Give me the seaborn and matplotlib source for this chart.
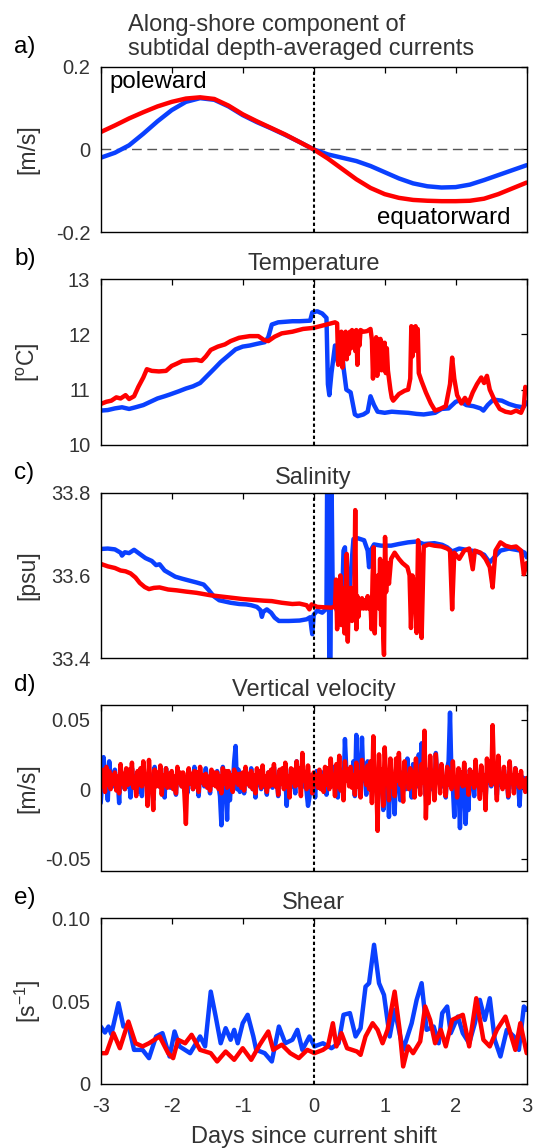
import numpy as np
import matplotlib
matplotlib.use("Agg")
import matplotlib.pyplot as plt
import seaborn as sns

# ---------------- data ----------------
# a) along-shore subtidal depth-averaged current [m/s]
cur_days = [-3.0, -2.8, -2.6, -2.4, -2.2, -2.0, -1.8, -1.6, -1.4, -1.2, -1.0, -0.8, -0.6, -0.4, -0.2, 0.0,
            0.2, 0.4, 0.6, 0.8, 1.0, 1.2, 1.4, 1.6, 1.8, 2.0, 2.2, 2.4, 2.6, 2.8, 3.0]
cur_red = [0.042, 0.058, 0.075, 0.090, 0.104, 0.115, 0.123, 0.126, 0.122, 0.106, 0.085, 0.068, 0.052, 0.036,
           0.018, 0.000, -0.022, -0.047, -0.072, -0.093, -0.108, -0.117, -0.122, -0.124, -0.125, -0.125,
           -0.124, -0.119, -0.108, -0.094, -0.080]
cur_blue = [-0.020, -0.008, 0.010, 0.038, 0.068, 0.095, 0.115, 0.124, 0.120, 0.104, 0.083, 0.066, 0.051, 0.035,
            0.018, 0.000, -0.012, -0.020, -0.028, -0.040, -0.055, -0.070, -0.082, -0.089, -0.092, -0.091,
            -0.085, -0.074, -0.062, -0.050, -0.038]

# b) temperature [degC]
temp_blue_days = [-3.00, -2.90, -2.80, -2.70, -2.60, -2.51, -2.40, -2.30, -2.20, -2.10, -2.03, -1.90, -1.80, -1.70,
                  -1.60, -1.50, -1.40, -1.31, -1.20, -1.10, -1.00, -0.90, -0.80, -0.69, -0.64, -0.59, -0.50, -0.40,
                  -0.30, -0.20, -0.05, -0.02, 0.05, 0.12, 0.18, 0.20, 0.22, 0.25, 0.30, 0.34, 0.38, 0.42, 0.46,
                  0.52, 0.58, 0.62, 0.70, 0.76, 0.80, 0.85, 0.90, 1.00, 1.10, 1.20, 1.33, 1.45, 1.55, 1.71, 1.80,
                  1.90, 2.00, 2.05, 2.15, 2.25, 2.35, 2.39, 2.45, 2.53, 2.65, 2.75, 2.85, 2.95, 3.00]
temp_blue = [10.62, 10.63, 10.66, 10.68, 10.65, 10.68, 10.72, 10.78, 10.84, 10.88, 10.91, 10.97, 11.02, 11.06,
             11.12, 11.25, 11.38, 11.50, 11.62, 11.73, 11.78, 11.80, 11.83, 11.86, 11.95, 12.18, 12.22, 12.23,
             12.24, 12.24, 12.25, 12.40, 12.42, 12.38, 12.30, 11.10, 10.90, 11.30, 11.80, 11.50, 12.00, 11.40,
             11.00, 10.95, 10.55, 10.52, 10.55, 10.60, 10.88, 10.72, 10.60, 10.58, 10.60, 10.59, 10.58, 10.56,
             10.55, 10.58, 10.65, 10.66, 10.78, 10.80, 10.72, 10.70, 10.66, 10.62, 10.72, 10.82, 10.80, 10.74,
             10.70, 10.68, 10.77]
temp_red_days = [-3.00, -2.92, -2.85, -2.78, -2.72, -2.65, -2.60, -2.53, -2.47, -2.40, -2.35, -2.28, -2.18, -2.08,
                 -2.00, -1.93, -1.85, -1.75, -1.65, -1.58, -1.52, -1.45, -1.35, -1.25, -1.17, -1.05, -0.90, -0.78,
                 -0.70, -0.64, -0.55, -0.45, -0.30, -0.15, 0.00, 0.15, 0.30,
                 0.33, 0.345, 0.36, 0.375, 0.39, 0.405, 0.42, 0.435, 0.45, 0.465, 0.48, 0.495, 0.51, 0.525,
                 0.54, 0.555, 0.57, 0.585, 0.60, 0.615, 0.63, 0.645, 0.66, 0.70, 0.75, 0.80,
                 0.82, 0.835, 0.85, 0.865, 0.88, 0.895, 0.91, 0.925, 0.94, 0.955, 0.97, 0.985, 1.00, 1.015,
                 1.03, 1.045, 1.06, 1.08, 1.10, 1.12,
                 1.20, 1.28, 1.33, 1.36, 1.375, 1.39, 1.405, 1.42, 1.435, 1.45, 1.465, 1.48,
                 1.52, 1.58, 1.65, 1.71, 1.78, 1.86, 1.92, 1.95,
                 1.98, 2.02, 2.08, 2.13, 2.18, 2.24, 2.30, 2.36, 2.40, 2.44, 2.48, 2.55, 2.62, 2.70, 2.78, 2.85,
                 2.92, 2.96, 2.98, 3.00]
temp_red = [10.74, 10.78, 10.80, 10.86, 10.84, 10.90, 10.83, 10.88, 11.05, 11.22, 11.37, 11.34, 11.33, 11.34,
            11.43, 11.47, 11.52, 11.53, 11.54, 11.52, 11.60, 11.72, 11.78, 11.82, 11.88, 11.94, 11.97, 11.97,
            11.90, 11.88, 11.96, 12.02, 12.05, 12.10, 12.12, 12.17, 12.22,
            12.20, 11.45, 12.00, 11.60, 12.05, 11.40, 11.95, 11.70, 12.05, 11.55, 12.00, 11.65, 12.05, 11.75,
            12.08, 11.80, 12.05, 11.70, 12.08, 11.45, 12.00, 11.80, 12.08, 12.05, 12.06, 12.10,
            11.90, 11.20, 11.85, 11.30, 11.95, 11.25, 11.90, 11.40, 11.92, 11.35, 11.85, 11.50, 11.85, 11.30,
            11.75, 11.35, 11.20, 11.00, 10.85, 10.80,
            10.92, 10.98, 11.00, 11.20, 12.15, 11.60, 12.12, 11.70, 12.15, 11.80, 12.10, 11.30,
            11.15, 10.95, 10.75, 10.62, 10.65, 10.70, 11.10, 11.58,
            11.20, 10.90, 10.75, 10.85, 10.75, 10.95, 11.10, 11.22, 11.12, 11.25, 11.00, 10.80, 10.65, 10.60,
            10.58, 10.62, 10.58, 10.70, 11.05, 11.00]

# c) salinity [psu]
sal_blue_days = [-3.00, -2.90, -2.80, -2.72, -2.70, -2.66, -2.60, -2.53, -2.45, -2.37, -2.28, -2.22, -2.17, -2.10,
                 -2.03, -1.95, -1.85, -1.74, -1.65, -1.55, -1.48, -1.41, -1.33, -1.25, -1.17, -1.05, -0.95, -0.88,
                 -0.80, -0.75, -0.73, -0.71, -0.66, -0.60, -0.55, -0.49, -0.35, -0.20, -0.10, -0.05, -0.03, -0.02,
                 0.00, 0.05, 0.12, 0.18, 0.19, 0.21, 0.22, 0.235, 0.25, 0.265, 0.30, 0.37, 0.40, 0.42, 0.44, 0.46,
                 0.49, 0.52, 0.56, 0.62, 0.71, 0.76, 0.78, 0.80, 0.85, 0.95, 1.09, 1.20, 1.33, 1.45, 1.55, 1.70,
                 1.81, 1.88, 1.95, 2.05, 2.15, 2.29, 2.40, 2.45, 2.48, 2.55, 2.63, 2.75, 2.85, 2.91, 2.97, 3.00]
sal_blue = [33.664, 33.665, 33.663, 33.655, 33.648, 33.656, 33.654, 33.662, 33.652, 33.642, 33.635, 33.625,
            33.627, 33.612, 33.605, 33.597, 33.592, 33.587, 33.583, 33.578, 33.565, 33.550, 33.540, 33.537,
            33.534, 33.531, 33.530, 33.528, 33.524, 33.516, 33.500, 33.512, 33.518, 33.510, 33.498, 33.490,
            33.490, 33.491, 33.494, 33.499, 33.470, 33.458, 33.505, 33.515, 33.510, 33.520, 33.850, 33.850,
            33.350, 33.350, 33.850, 33.600, 33.525, 33.500, 33.540, 33.660, 33.668, 33.560, 33.540, 33.600,
            33.688, 33.690, 33.685, 33.660, 33.620, 33.660, 33.675, 33.672, 33.672, 33.676, 33.680, 33.682,
            33.676, 33.678, 33.674, 33.668, 33.658, 33.665, 33.662, 33.658, 33.650, 33.638, 33.632, 33.645,
            33.660, 33.665, 33.662, 33.660, 33.655, 33.644]
sal_red_days = [-3.00, -2.90, -2.80, -2.72, -2.65, -2.58, -2.51, -2.45, -2.38, -2.32, -2.25, -2.17, -2.05, -1.93,
                -1.80, -1.65, -1.55, -1.45, -1.30, -1.15, -1.00, -0.85, -0.70, -0.59, -0.45, -0.30, -0.20, -0.10,
                -0.06, -0.03, 0.05, 0.15, 0.25,
                0.30, 0.315, 0.33, 0.345, 0.36, 0.375, 0.39, 0.405, 0.42, 0.435, 0.45, 0.465, 0.48, 0.495, 0.51,
                0.525, 0.54, 0.555, 0.57, 0.585, 0.60, 0.615, 0.63, 0.645, 0.66, 0.68, 0.70, 0.72, 0.74, 0.76,
                0.78, 0.80, 0.815, 0.83, 0.845, 0.86, 0.875, 0.89, 0.905, 0.92, 0.935, 0.95, 0.965, 0.98, 0.99,
                1.005, 1.02, 1.04, 1.06, 1.09, 1.14, 1.20, 1.25, 1.32, 1.35, 1.37, 1.39, 1.42, 1.45, 1.47, 1.50,
                1.52, 1.55, 1.62, 1.70, 1.80, 1.88, 1.92, 1.95, 1.98, 2.05, 2.12, 2.19, 2.24, 2.27, 2.35, 2.42,
                2.48, 2.52, 2.56, 2.63, 2.70, 2.78, 2.85, 2.92, 2.96, 3.00]
sal_red = [33.628, 33.622, 33.618, 33.612, 33.610, 33.605, 33.595, 33.582, 33.572, 33.567, 33.570, 33.571,
           33.566, 33.564, 33.561, 33.558, 33.555, 33.552, 33.549, 33.546, 33.543, 33.541, 33.539, 33.538,
           33.534, 33.531, 33.532, 33.528, 33.518, 33.530, 33.524, 33.523, 33.522,
           33.525, 33.590, 33.470, 33.580, 33.490, 33.600, 33.480, 33.570, 33.520, 33.460, 33.550, 33.652,
           33.440, 33.560, 33.500, 33.570, 33.490, 33.560, 33.520, 33.758, 33.470, 33.550, 33.500, 33.540,
           33.520, 33.545, 33.520, 33.540, 33.520, 33.550, 33.520, 33.530, 33.470, 33.600, 33.668, 33.460,
           33.580, 33.550, 33.600, 33.520, 33.640, 33.480, 33.620, 33.450, 33.408, 33.693, 33.560, 33.630,
           33.580, 33.640, 33.655, 33.640, 33.630, 33.620, 33.600, 33.473, 33.600, 33.580, 33.461, 33.685,
           33.620, 33.449, 33.670, 33.675, 33.672, 33.670, 33.665, 33.660, 33.518, 33.655, 33.640, 33.660,
           33.665, 33.615, 33.660, 33.655, 33.640, 33.620, 33.571, 33.660, 33.680, 33.672, 33.668, 33.670,
           33.660, 33.603, 33.630]

# d) vertical velocity, sampled every 0.02 day from -3 to 3 [mm/s]
vel_days = [round(-3 + 0.02 * i, 2) for i in range(301)]
vel_red_mms = [12, 2, 14, -2, 16, 3, 13, 0, 10, 4,
               12, -1, 9, -3, 18, 4, 11, 0, 15, 3,
               14, 4, 19, 1, 8, -5, 13, 3, 15, 2,
               20, 6, 9, -12, 21, 3, 5, -15, 14, 2,
               12, 2, 17, -4, 10, 3, 15, 1, 11, 2,
               13, 0, 9, -3, 16, 5, 12, 2, 12, -4,
               -25, 8, 15, 4, 11, 0, 13, 2, 12, -2,
               16, 5, 10, 3, 11, 1, 9, -1, 14, 3,
               12, 2, 12, 0, 9, -3, 15, 4, 13, 1,
               13, 2, 10, -2, 14, 5, 11, 3, 11, 1,
               12, -1, 16, 4, 11, 2, 13, 0, 10, -3,
               15, 5, 13, 1, 17, 3, 9, -2, 12, 2,
               14, 3, 18, 2, 8, -4, 14, 4, 15, 0,
               19, 2, 9, -6, 15, 5, 14, 2, 20, 3,
               15, -5, 26, 6, 12, 0, 17, 2, 8, -3,
               12, 4, 10, 1, 14, 0, 9, -2, 16, 3,
               15, 0, 22, 3, 10, -5, 18, 2, 24, -1,
               12, -8, 20, 6, 14, 2, 16, 1, 10, -4,
               19, 2, 12, -6, 21, 8, 12, 3, 17, 0,
               20, -10, 38, 5, 10, -30, 25, 0, 14, -12,
               30, 6, 12, -8, 22, 2, 10, -5, 22, 6,
               26, 3, 8, -9, 20, 6, 10, 0, 15, 2,
               12, -6, 22, 4, 10, -4, 18, 5, 42, -21,
               12, -10, 24, 3, 12, -8, 25, 8, 10, -3,
               18, 4, 8, -5, 16, 3, 12, 0, 20, 4,
               8, -6, 15, 5, 12, 2, 19, 3, 9, -4,
               14, 4, 12, 1, 21, 3, 10, -7, 17, 0,
               10, -15, 22, 6, 20, 3, 46, 10, 12, -8,
               24, 6, 10, 0, 16, 2, 9, -5, 20, 5,
               10, -3, 15, 4, 10, 1, 13, 2, 6, -2,
               8]
vel_blue_mms = [-10, 5, 23, 10, 6, -8, 20, 8, 10, 2,
                14, 0, 6, -10, 16, 4, 8, 0, 12, 2,
                7, -6, 15, 6, 9, 3, 10, -2, 8, -5,
                14, 4, 8, 0, 12, 0, 9, -8, 16, 5,
                10, 2, 13, 0, 8, -6, 15, 6, 9, 1,
                11, 2, 8, -4, 13, 6, 8, 2, 10, 1,
                8, -3, 14, 5, 10, 0, 16, 4, 7, -5,
                12, 5, 9, 2, 15, 3, 6, -3, 11, 5,
                10, 4, 13, 2, -5, -26, 16, 8, 2, -22,
                12, -8, 6, 3, 20, 31, 0, 14, -2, 8,
                8, -3, 12, 4, 10, 2, 15, 0, 8, -6,
                11, 3, 9, 0, 13, 2, 7, -4, 12, 4,
                10, 1, 16, 5, 8, -5, 13, 4, 9, 2,
                10, -12, 8, -3, 14, 2, 10, -3, 20, 6,
                10, 0, 15, 2, 8, -2, -12, -6, 10, 4,
                8, -6, 13, 3, 9, 1, 12, 0, 8, -4,
                14, 4, 10, 2, 16, 3, 8, -6, 12, 2,
                10, -3, 36, 12, 10, 5, 15, 3, 20, -5,
                39, 10, 20, 8, 37, 6, 10, -4, 20, 4,
                10, 2, 14, 0, 6, -10, 12, -2, 8, -15,
                16, 0, 4, -20, 10, -5, 6, -18, 14, 2,
                6, -8, 12, 4, 10, 0, 22, 5, 8, -6,
                18, 6, 12, 2, 25, 10, 33, 8, 6, -5,
                14, 4, 6, 0, 10, -4, 26, 8, 9, 4,
                12, 2, 8, -6, 15, 20, 55, 10, 2, -20,
                8, -5, 4, -28, 6, -10, 2, -25, 4, -15,
                14, 3, 6, -5, 12, 4, 10, 0, 16, 2,
                6, -8, 12, 5, 10, 2, 15, 4, 7, -4,
                13, 3, 9, 1, 14, 2, 8, -6, 12, 4,
                10, 0, 15, 2, 4, -12, 10, 6, 8, 3,
                3]

# e) shear [1/s]
shear_blue_days = [-3.00, -2.94, -2.89, -2.85, -2.75, -2.68, -2.61, -2.53, -2.41, -2.32, -2.22, -2.13, -2.03,
                   -1.96, -1.89, -1.74, -1.60, -1.53, -1.45, -1.38, -1.31, -1.24, -1.17, -1.12, -1.07, -1.00,
                   -0.93, -0.85, -0.81, -0.69, -0.59, -0.49, -0.40, -0.30, -0.23, -0.16, -0.06, 0.01, 0.13,
                   0.25, 0.35, 0.42, 0.51, 0.59, 0.66, 0.73, 0.78, 0.85, 0.92, 0.99, 1.07, 1.14, 1.26, 1.38,
                   1.45, 1.52, 1.59, 1.69, 1.76, 1.81, 1.88, 1.93, 2.03, 2.10, 2.19, 2.27, 2.34, 2.41, 2.48,
                   2.55, 2.63, 2.72, 2.82, 2.89, 2.96, 3.00]
shear_blue = [0.0346, 0.0310, 0.0346, 0.0300, 0.0487, 0.0346, 0.0356, 0.0205, 0.0205, 0.0155, 0.0286, 0.0306,
              0.0165, 0.0316, 0.0226, 0.0185, 0.0286, 0.0226, 0.0557, 0.0406, 0.0245, 0.0336, 0.0266, 0.0326,
              0.0245, 0.0366, 0.0417, 0.0286, 0.0205, 0.0185, 0.0135, 0.0346, 0.0245, 0.0266, 0.0326, 0.0205,
              0.0286, 0.0226, 0.0245, 0.0215, 0.0245, 0.0417, 0.0427, 0.0286, 0.0336, 0.0587, 0.0608, 0.0840,
              0.0608, 0.0537, 0.0286, 0.0447, 0.0205, 0.0366, 0.0507, 0.0608, 0.0326, 0.0346, 0.0245, 0.0427,
              0.0467, 0.0306, 0.0406, 0.0306, 0.0245, 0.0366, 0.0507, 0.0386, 0.0517, 0.0266, 0.0165, 0.0326,
              0.0286, 0.0205, 0.0467, 0.0447]
shear_red_days = [-3.00, -2.92, -2.82, -2.73, -2.61, -2.51, -2.41, -2.32, -2.17, -2.05, -1.98, -1.91, -1.81,
                  -1.72, -1.60, -1.45, -1.36, -1.24, -1.12, -1.00, -0.88, -0.76, -0.64, -0.57, -0.45, -0.33,
                  -0.21, -0.09, 0.01, 0.13, 0.20, 0.27, 0.32, 0.39, 0.47, 0.61, 0.66, 0.73, 0.83, 0.90, 0.97,
                  1.04, 1.14, 1.21, 1.26, 1.33, 1.40, 1.50, 1.57, 1.64, 1.71, 1.79, 1.86, 1.95, 2.10, 2.19,
                  2.29, 2.39, 2.48, 2.58, 2.70, 2.77, 2.84, 2.91, 3.00]
shear_red = [0.0185, 0.0185, 0.0306, 0.0215, 0.0376, 0.0245, 0.0226, 0.0245, 0.0286, 0.0185, 0.0155, 0.0266,
             0.0245, 0.0296, 0.0205, 0.0185, 0.0135, 0.0195, 0.0145, 0.0215, 0.0145, 0.0236, 0.0316, 0.0205,
             0.0236, 0.0185, 0.0155, 0.0205, 0.0185, 0.0205, 0.0226, 0.0366, 0.0226, 0.0306, 0.0215, 0.0195,
             0.0175, 0.0286, 0.0366, 0.0326, 0.0245, 0.0326, 0.0557, 0.0326, 0.0105, 0.0226, 0.0185, 0.0256,
             0.0467, 0.0386, 0.0245, 0.0326, 0.0226, 0.0386, 0.0417, 0.0226, 0.0517, 0.0266, 0.0226, 0.0326,
             0.0406, 0.0306, 0.0205, 0.0366, 0.0185]

titles = ["Temperature", "Salinity", "Vertical velocity", "Shear"]
panel_letters = ["a)", "b)", "c)", "d)", "e)"]
ylabels = ["[m/s]", "[$^{\\mathrm{o}}$C]", "[psu]", "[m/s]", "[s$^{\\mathrm{-1}}$]"]
xticks = [-3, -2, -1, 0, 1, 2, 3]

# ---------------- style ----------------
sns.set_theme(style="white")
plt.rcParams['font.family'] = ['Liberation Sans', 'DejaVu Sans']
plt.rcParams['mathtext.fontset'] = 'custom'
plt.rcParams['mathtext.rm'] = 'Liberation Sans'
plt.rcParams['mathtext.it'] = 'Liberation Sans:italic'
plt.rcParams['axes.unicode_minus'] = False

BLUE = '#0a40ff'
RED = '#ff0000'
GREY = '#333333'
LW = 3.2

W, H = 534, 1148
fig = plt.figure(figsize=(W / 100, H / 100), dpi=100)
left_px, right_px = 100.7, 526.7
tops_px = [66.7, 279.3, 492.7, 705.0, 918.3]
hgt_px = 165.5

axes = []
for t in tops_px:
    ax = fig.add_axes([left_px / W, 1 - (t + hgt_px) / H, (right_px - left_px) / W, hgt_px / H])
    axes.append(ax)


def draw(ax, x, y, color):
    sns.lineplot(x=np.asarray(x, float), y=np.asarray(y, float), ax=ax, color=color, lw=LW,
                 estimator=None, sort=False, legend=False)


draw(axes[0], cur_days, cur_blue, BLUE)
draw(axes[0], cur_days, cur_red, RED)
draw(axes[1], temp_blue_days, temp_blue, BLUE)
draw(axes[1], temp_red_days, temp_red, RED)
draw(axes[2], sal_blue_days, sal_blue, BLUE)
draw(axes[2], sal_red_days, sal_red, RED)
draw(axes[3], vel_days, np.asarray(vel_blue_mms) / 1000.0, BLUE)
draw(axes[3], vel_days, np.asarray(vel_red_mms) / 1000.0, RED)
draw(axes[4], shear_blue_days, shear_blue, BLUE)
draw(axes[4], shear_red_days, shear_red, RED)

axes[0].axhline(0, color='#555555', lw=1.0, ls=(0, (7, 4)), zorder=1)

ylims = [(-0.2, 0.2), (10, 13), (33.4, 33.8), (-0.0585, 0.0605), (0, 0.10)]
yticks = [[-0.2, 0, 0.2], [10, 11, 12, 13], [33.4, 33.6, 33.8], [-0.05, 0, 0.05], [0, 0.05, 0.10]]
yticklabels = [["-0.2", "0", "0.2"], ["10", "11", "12", "13"], ["33.4", "33.6", "33.8"],
               ["-0.05", "0", "0.05"], ["0", "0.05", "0.10"]]

for i, ax in enumerate(axes):
    ax.axvline(0, color='black', lw=1.5, ls=(0, (1.6, 1.3)), zorder=5)
    ax.set_xlim(-3, 3)
    ax.set_ylim(*ylims[i])
    ax.set_xticks(xticks)
    ax.set_yticks(yticks[i])
    ax.set_yticklabels(yticklabels[i])
    if i == 4:
        ax.set_xticklabels([str(v) for v in xticks])
    else:
        ax.set_xticklabels([])
    ax.tick_params(direction='in', length=4.5, width=0.9, top=True, right=True, color='black',
                   labelsize=14.5, labelcolor=GREY, pad=7.5)
    ax.tick_params(axis='x', pad=9.5)
    for s in ax.spines.values():
        s.set_visible(True)
        s.set_color('black')
        s.set_linewidth(1.0)
    ax.set_xlabel("")
    ax.set_ylabel(ylabels[i], fontsize=16.5, color=GREY)
    ax.yaxis.set_label_coords((28 - left_px) / (right_px - left_px), 0.5)
    ax.yaxis.label.set_va('center')
    if i > 0:
        ax.set_title(titles[i - 1], fontsize=17, color=GREY, pad=6.5)
    top = tops_px[i]
    fig.text(14 / W, 1 - (top - 20) / H, panel_letters[i], fontsize=17.5, color='black',
             ha='left', va='center')

# two-line title of panel a
fig.text(128 / W, 1 - 31 / H, "Along-shore component of", fontsize=17, color=GREY,
         ha='left', va='baseline')
fig.text(128 / W, 1 - 55 / H, "subtidal depth-averaged currents", fontsize=17, color=GREY,
         ha='left', va='baseline')

axes[0].text(-2.87, 0.148, "poleward", fontsize=17.3, color='black', ha='left', va='baseline')
axes[0].text(2.765, -0.180, "equatorward", fontsize=17.3, color='black', ha='right', va='baseline')

axes[4].set_xlabel("Days since current shift", fontsize=17, color=GREY, labelpad=7)

fig.savefig("out.png", dpi=100)
